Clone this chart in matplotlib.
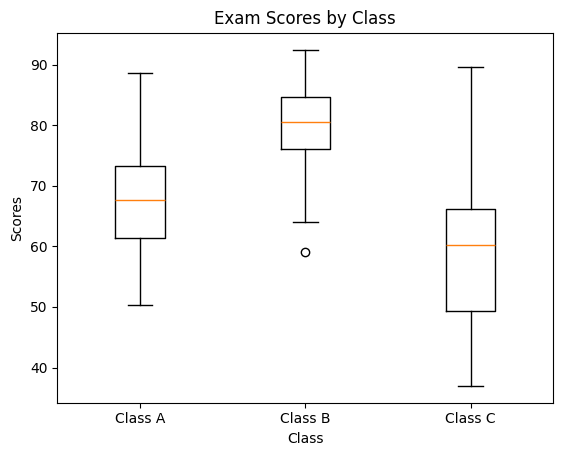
import matplotlib
matplotlib.use("Agg")
import matplotlib.pyplot as plt

classes = ["Class A", "Class B", "Class C"]
whislo = [50.4, 64.1, 37.0]
q1 = [61.4, 76.0, 49.3]
med = [67.7, 80.5, 60.3]
q3 = [73.3, 84.7, 66.1]
whishi = [88.6, 92.5, 89.6]
fliers = [[], [59.1], []]

stats = []
for i, name in enumerate(classes):
    stats.append(dict(label=name, whislo=whislo[i], q1=q1[i], med=med[i],
                      q3=q3[i], whishi=whishi[i], fliers=fliers[i]))

fig = plt.figure(figsize=(5.62, 4.55), dpi=100)
ax = fig.add_axes([57.3 / 562, (455 - 402.5) / 455, 496 / 562, 369.8 / 455])
ax.bxp(stats)
ax.set_title("Exam Scores by Class")
ax.set_xlabel("Class")
ax.set_ylabel("Scores")
fig.savefig("out.png", dpi=100)
